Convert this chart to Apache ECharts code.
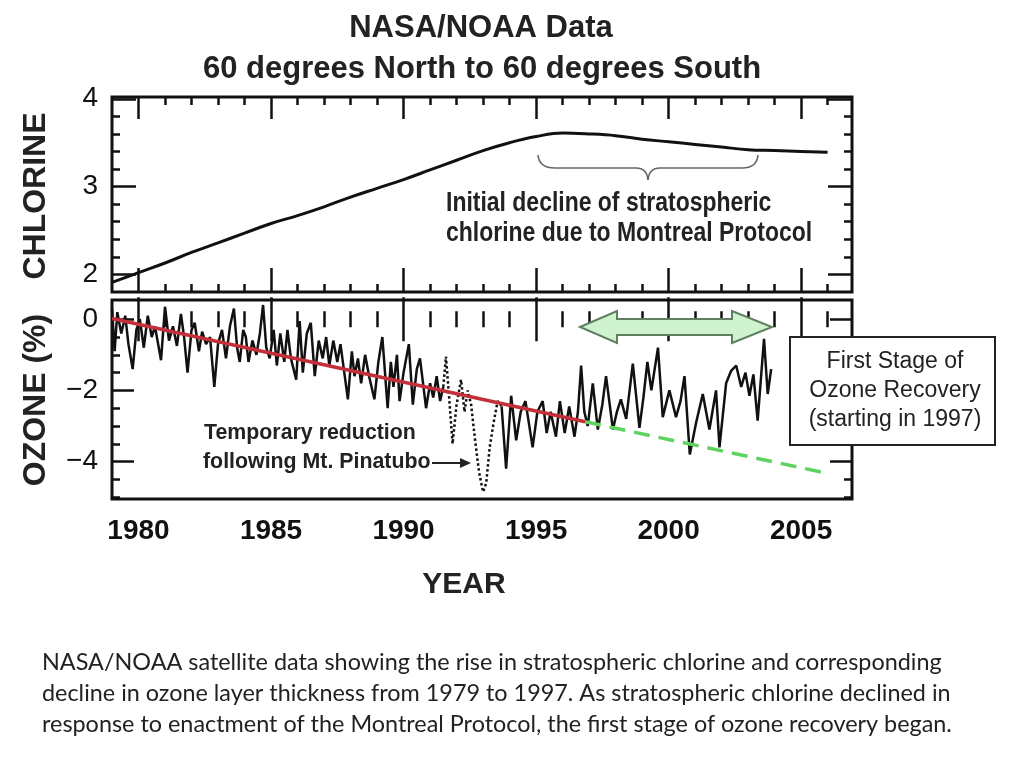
<!DOCTYPE html>
<html>
<head>
<meta charset="utf-8">
<script src="https://cdn.jsdelivr.net/npm/echarts@6/dist/echarts.min.js"></script>
<style>
html,body{margin:0;padding:0;background:#fff;}
#chart{width:1024px;height:768px;}
</style>
</head>
<body>
<div id="chart"></div>
<script>
// ---------- data ----------
const X_MIN = 1979;
const X_MAX = 2006.92;
const MAJOR_YEARS = [1980, 1985, 1990, 1995, 2000, 2005];
const ALL_YEARS = [1980, 1981, 1982, 1983, 1984, 1985, 1986, 1987, 1988, 1989, 1990, 1991, 1992,
  1993, 1994, 1995, 1996, 1997, 1998, 1999, 2000, 2001, 2002, 2003, 2004, 2005, 2006];

const CHL_MAJOR = [2, 3, 4];
const CHL_MINOR = [2.2, 2.4, 2.6, 2.8, 3.2, 3.4, 3.6, 3.8];
const OZ_MAJOR = [0, -2, -4];
const OZ_MINOR = [-0.5, -1, -1.5, -2.5, -3, -3.5, -4.5, -5];

// stratospheric chlorine
const chlYears = [1979, 1980, 1981, 1982, 1983, 1984, 1985, 1986, 1987, 1988, 1989, 1990, 1991,
  1992, 1993, 1994, 1995, 1996, 1997, 1998, 1999, 2000, 2001, 2002, 2003, 2004, 2005, 2006];
const chlValues = [1.91, 2.02, 2.13, 2.25, 2.36, 2.47, 2.58, 2.67, 2.77, 2.88, 2.98, 3.08, 3.19,
  3.30, 3.41, 3.50, 3.57, 3.61, 3.60, 3.58, 3.54, 3.51, 3.48, 3.45, 3.42, 3.41, 3.40, 3.39];

// ozone anomaly (%) - before Pinatubo
const ozPreYears = [1979.00, 1979.10, 1979.20, 1979.35, 1979.50, 1979.62, 1979.78, 1979.92,
  1980.05, 1980.20, 1980.35, 1980.50, 1980.62, 1980.85, 1981.00, 1981.15, 1981.30, 1981.45,
  1981.60, 1981.72, 1981.85, 1982.00, 1982.12, 1982.28, 1982.40, 1982.55, 1982.70, 1982.86,
  1983.00, 1983.15, 1983.30, 1983.45, 1983.60, 1983.72, 1983.82, 1983.95, 1984.05, 1984.15,
  1984.30, 1984.45, 1984.58, 1984.70, 1984.82, 1984.95, 1985.10, 1985.22, 1985.35, 1985.50,
  1985.62, 1985.75, 1985.95, 1986.08, 1986.20, 1986.35, 1986.50, 1986.65, 1986.80, 1986.95,
  1987.08, 1987.20, 1987.35, 1987.50, 1987.62, 1987.90, 1988.05, 1988.15, 1988.28, 1988.40,
  1988.55, 1988.70, 1988.90, 1989.05, 1989.20, 1989.40, 1989.52, 1989.62, 1989.75, 1989.85,
  1990.00, 1990.20, 1990.35, 1990.50, 1990.62, 1990.85, 1991.00, 1991.12, 1991.25, 1991.38,
  1991.50];
const ozPreValues = [0.3, -0.9, 0.2, -0.4, 0.1, -0.7, -1.4, -0.3,
  0.0, -0.8, 0.1, -0.5, -0.2, -1.15, 0.35, -0.6, -0.2, -0.75,
  0.15, -0.5, -1.5, -0.3, -0.1, -0.9, -0.35, -0.7, -0.5, -1.9,
  -0.7, -0.3, -1.1, -0.2, 0.3, -0.8, -1.2, -0.3, -0.5, -1.2,
  -0.6, -1.0, -0.4, 0.4, -0.8, -1.1, -0.3, -1.3, -0.4, -1.2,
  -0.3, -1.1, -1.7, -0.05, -1.5, -0.4, -0.1, -1.6, -0.6, -1.1,
  -0.5, -1.3, -0.6, -1.2, -0.7, -2.25, -0.9, -1.6, -1.1, -1.8,
  -1.0, -1.6, -2.25, -1.2, -0.5, -2.5, -1.2, -1.9, -1.0, -2.3,
  -1.5, -0.7, -2.4, -1.4, -1.1, -2.5, -1.8, -2.2, -1.6, -2.3,
  -1.9];

// ozone anomaly (%) - Mt. Pinatubo period (dotted)
const ozPinYears = [1991.50, 1991.60, 1991.72, 1991.85, 1992.00, 1992.17, 1992.30, 1992.42,
  1992.55, 1992.70, 1992.85, 1993.00, 1993.12, 1993.25, 1993.40, 1993.55, 1993.70];
const ozPinValues = [-1.9, -1.05, -2.2, -3.5, -2.4, -1.7, -2.6, -2.0,
  -2.4, -3.4, -4.3, -4.85, -4.6, -3.6, -2.9, -2.3, -2.45];

// ozone anomaly (%) - after Pinatubo
const ozPostYears = [1993.70, 1993.87, 1994.06, 1994.25, 1994.42, 1994.60, 1994.87, 1995.05,
  1995.25, 1995.40, 1995.55, 1995.75, 1995.90, 1996.08, 1996.25, 1996.45, 1996.58, 1996.70,
  1996.82, 1996.95, 1997.14, 1997.33, 1997.50, 1997.64, 1997.90, 1998.05, 1998.20, 1998.40,
  1998.65, 1998.90, 1999.05, 1999.20, 1999.35, 1999.60, 1999.78, 2000.03, 2000.28, 2000.45,
  2000.60, 2000.80, 2001.04, 2001.29, 2001.54, 2001.79, 2001.92, 2002.17, 2002.36, 2002.55,
  2002.74, 2002.90, 2003.05, 2003.20, 2003.36, 2003.60, 2003.74, 2003.87];
const ozPostValues = [-2.45, -4.2, -2.15, -3.4, -2.6, -2.3, -3.6, -2.6,
  -2.3, -3.2, -2.6, -3.3, -2.3, -3.2, -2.45, -3.3, -2.6, -1.3,
  -2.6, -3.0, -1.8, -3.1, -2.4, -1.6, -3.1, -2.6, -2.25, -2.8,
  -1.25, -3.05, -2.2, -1.2, -2.0, -0.8, -2.75, -2.0, -2.75, -2.3,
  -1.6, -3.8, -2.9, -2.1, -3.1, -2.0, -3.6, -1.8, -1.45, -1.3,
  -1.9, -1.5, -2.15, -1.55, -2.85, -0.55, -2.1, -1.4];

// trend lines
const trendYears = [1979, 1996.85];
const trendValues = [0.02, -2.88];
const projYears = [1996.85, 2006];
const projValues = [-2.88, -4.33];

// ---------- helpers ----------
const pairs = (xs, ys) => xs.map((x, i) => [x, ys[i]]);
const INK = '#111';
const FONT = 'Liberation Sans, Arial, sans-serif';
const CAP_FONT = '23.4px Lato, "Open Sans", sans-serif';
const minusFmt = v => String(v).replace('-', '\u2212');

function xAxis(grid, pos, vals, len, showLabels) {
  return {
    type: 'value', gridIndex: grid, position: pos, min: X_MIN, max: X_MAX,
    axisLine: { show: false }, splitLine: { show: false },
    axisTick: { show: true, inside: true, length: len, customValues: vals,
      lineStyle: { color: INK, width: 2.5 } },
    axisLabel: showLabels ? {
      show: true, customValues: MAJOR_YEARS, margin: 18, color: INK,
      fontSize: 28, fontWeight: 'bold', fontFamily: FONT, formatter: v => String(v)
    } : { show: false }
  };
}
function yAxis(grid, pos, min, max, vals, len, labelVals) {
  return {
    type: 'value', gridIndex: grid, position: pos, min: min, max: max,
    axisLine: { show: false }, splitLine: { show: false },
    axisTick: { show: true, inside: true, length: len, customValues: vals,
      lineStyle: { color: INK, width: 2.5 } },
    axisLabel: labelVals ? {
      show: true, customValues: labelVals, margin: 14, color: INK,
      fontSize: 28, fontFamily: FONT, formatter: minusFmt
    } : { show: false }
  };
}

const CHL_MIN = 1.8, CHL_MAX = 4.02;
const OZ_MIN = -5.05, OZ_MAX = 0.54;

const chart = echarts.init(document.getElementById('chart'), null, { renderer: 'canvas' });

function txt(x, y, text, font, opts) {
  return Object.assign({ type: 'text', x: x, y: y,
    style: { text: text, fill: '#222', font: font, align: (opts && opts.align) || 'left', verticalAlign: 'middle' } },
    opts && opts.el ? opts.el : {});
}

chart.setOption({
  animation: false,
  backgroundColor: '#fff',
  grid: [
    { left: 112, top: 97, width: 740, height: 195, show: true, borderColor: INK, borderWidth: 3, backgroundColor: 'transparent' },
    { left: 112, top: 300, width: 740, height: 199, show: true, borderColor: INK, borderWidth: 3, backgroundColor: 'transparent' }
  ],
  xAxis: [
    xAxis(0, 'bottom', MAJOR_YEARS, 24, false),
    xAxis(0, 'bottom', ALL_YEARS, 8, false),
    xAxis(0, 'top', MAJOR_YEARS, 22, false),
    xAxis(0, 'top', ALL_YEARS, 8, false),
    xAxis(1, 'bottom', MAJOR_YEARS, 22, true),
    xAxis(1, 'bottom', ALL_YEARS, 8, false),
    xAxis(1, 'top', MAJOR_YEARS, 22, false),
    xAxis(1, 'top', ALL_YEARS, 8, false)
  ],
  yAxis: [
    yAxis(0, 'left', CHL_MIN, CHL_MAX, CHL_MAJOR, 24, CHL_MAJOR),
    yAxis(0, 'left', CHL_MIN, CHL_MAX, CHL_MINOR, 8, null),
    yAxis(0, 'right', CHL_MIN, CHL_MAX, CHL_MAJOR, 24, null),
    yAxis(0, 'right', CHL_MIN, CHL_MAX, CHL_MINOR, 8, null),
    yAxis(1, 'left', OZ_MIN, OZ_MAX, OZ_MAJOR, 22, OZ_MAJOR),
    yAxis(1, 'left', OZ_MIN, OZ_MAX, OZ_MINOR, 8, null),
    yAxis(1, 'right', OZ_MIN, OZ_MAX, OZ_MAJOR, 22, null),
    yAxis(1, 'right', OZ_MIN, OZ_MAX, OZ_MINOR, 8, null)
  ],
  series: [
    { name: 'Chlorine', type: 'line', xAxisIndex: 0, yAxisIndex: 0, data: pairs(chlYears, chlValues),
      smooth: 0.4, showSymbol: false, lineStyle: { color: INK, width: 3 }, z: 3 },
    { name: 'Ozone', type: 'line', xAxisIndex: 4, yAxisIndex: 4, data: pairs(ozPreYears, ozPreValues),
      showSymbol: false, lineStyle: { color: INK, width: 2.5 }, z: 2 },
    { name: 'Ozone Pinatubo', type: 'line', xAxisIndex: 4, yAxisIndex: 4, data: pairs(ozPinYears, ozPinValues),
      showSymbol: false, lineStyle: { color: INK, width: 2.5, type: 'dotted' }, z: 2 },
    { name: 'Ozone after', type: 'line', xAxisIndex: 4, yAxisIndex: 4, data: pairs(ozPostYears, ozPostValues),
      showSymbol: false, lineStyle: { color: INK, width: 2.5 }, z: 2 },
    { name: 'Trend', type: 'line', xAxisIndex: 4, yAxisIndex: 4, data: pairs(trendYears, trendValues),
      showSymbol: false, lineStyle: { color: '#c4303a', width: 3.5 }, z: 4 },
    { name: 'Projection', type: 'line', xAxisIndex: 4, yAxisIndex: 4, data: pairs(projYears, projValues),
      showSymbol: false, lineStyle: { color: '#5fd35f', width: 3.5, type: [16, 9] }, z: 4 }
  ],
  graphic: [
    // titles
    txt(481, 28, 'NASA/NOAA Data', 'bold 31px ' + FONT, { align: 'center' }),
    txt(482, 69, '60 degrees North to 60 degrees South', 'bold 31px ' + FONT, { align: 'center' }),
    // axis titles
    txt(36, 196, 'CHLORINE', 'bold 32px ' + FONT, { align: 'center', el: { rotation: Math.PI / 2 } }),
    txt(36, 400, 'OZONE (%)', 'bold 32px ' + FONT, { align: 'center', el: { rotation: Math.PI / 2 } }),
    txt(464, 585, 'YEAR', 'bold 30px ' + FONT, { align: 'center' }),
    // brace
    { type: 'group', children: [
      { type: 'bezierCurve', shape: { x1: 538, y1: 155, x2: 555, y2: 168, cpx1: 539, cpy1: 168 }, style: { stroke: '#666', lineWidth: 1.6, fill: null } },
      { type: 'line', shape: { x1: 555, y1: 168, x2: 636, y2: 168 }, style: { stroke: '#666', lineWidth: 1.6 } },
      { type: 'bezierCurve', shape: { x1: 636, y1: 168, x2: 648, y2: 180, cpx1: 647, cpy1: 168 }, style: { stroke: '#666', lineWidth: 1.6, fill: null } },
      { type: 'bezierCurve', shape: { x1: 660, y1: 168, x2: 648, y2: 180, cpx1: 649, cpy1: 168 }, style: { stroke: '#666', lineWidth: 1.6, fill: null } },
      { type: 'line', shape: { x1: 660, y1: 168, x2: 742, y2: 168 }, style: { stroke: '#666', lineWidth: 1.6 } },
      { type: 'bezierCurve', shape: { x1: 742, y1: 168, x2: 758, y2: 155, cpx1: 757, cpy1: 168 }, style: { stroke: '#666', lineWidth: 1.6, fill: null } }
    ] },
    txt(446, 203, 'Initial decline of stratospheric', 'bold 28px ' + FONT, { el: { scaleX: 0.82 } }),
    txt(446, 233, 'chlorine due to Montreal Protocol', 'bold 28px ' + FONT, { el: { scaleX: 0.82 } }),
    // Pinatubo note
    txt(204, 433, 'Temporary reduction', 'bold 22px ' + FONT, { el: { scaleX: 0.97 } }),
    txt(203, 462, 'following Mt. Pinatubo', 'bold 22px ' + FONT, { el: { scaleX: 0.97 } }),
    { type: 'line', shape: { x1: 432, y1: 463, x2: 463, y2: 463 }, style: { stroke: '#222', lineWidth: 2 } },
    { type: 'polygon', shape: { points: [[460, 458], [471, 463], [460, 468]] }, style: { fill: '#222' } },
    // green double arrow
    { type: 'polygon', z: 10, shape: { points: [[580, 327], [617, 311], [617, 319], [732, 319], [732, 311], [772, 327], [732, 343], [732, 335], [617, 335], [617, 343]] },
      style: { fill: '#cff3cf', stroke: '#5f7f5f', lineWidth: 2 } },
    // recovery box
    { type: 'rect', z: 10, shape: { x: 790, y: 337, width: 205, height: 108 }, style: { fill: '#fff', stroke: '#222', lineWidth: 2 } },
    Object.assign(txt(895, 362, 'First Stage of', '23px ' + FONT, { align: 'center' }), { z: 11 }),
    Object.assign(txt(895, 391, 'Ozone Recovery', '23px ' + FONT, { align: 'center' }), { z: 11 }),
    Object.assign(txt(895, 420, '(starting in 1997)', '23px ' + FONT, { align: 'center' }), { z: 11 }),
    // caption
    txt(42, 662, 'NASA/NOAA satellite data showing the rise in stratospheric chlorine and corresponding', CAP_FONT),
    txt(42, 693, 'decline in ozone layer thickness from 1979 to 1997. As stratospheric chlorine declined in', CAP_FONT),
    txt(42, 724, 'response to enactment of the Montreal Protocol, the first stage of ozone recovery began.', CAP_FONT)
  ]
});
</script>
</body>
</html>
